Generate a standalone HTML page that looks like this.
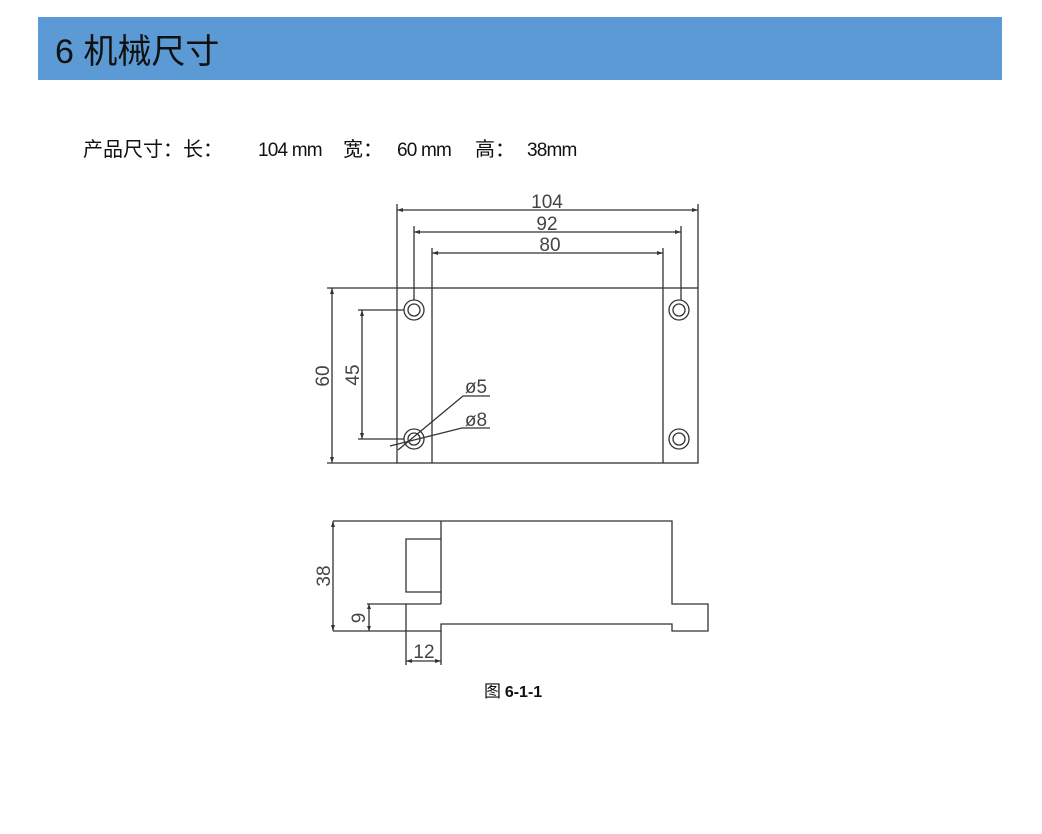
<!DOCTYPE html>
<html><head><meta charset="utf-8"><style>
html,body{margin:0;padding:0;background:#fff;width:1042px;height:834px;overflow:hidden}
svg{position:absolute;left:0;top:0}
</style></head><body>
<svg width="1042" height="834" viewBox="0 0 1042 834" xmlns="http://www.w3.org/2000/svg">
<rect x="38" y="17" width="964" height="63" fill="#5b9ad4"/>
<text x="55" y="63" font-family="'Liberation Sans','Noto Sans CJK SC',sans-serif" font-size="34" fill="#111">6 机械尺寸</text>
<text x="83" y="156" font-family="'Noto Sans CJK SC',sans-serif" font-size="20" fill="#111">产品尺寸：长：</text>
<text x="258" y="156" font-family="'Liberation Sans',sans-serif" font-size="19" fill="#111" letter-spacing="-0.8">104 mm</text>
<text x="343" y="156" font-family="'Noto Sans CJK SC',sans-serif" font-size="20" fill="#111">宽：</text>
<text x="397" y="156" font-family="'Liberation Sans',sans-serif" font-size="19" fill="#111" letter-spacing="-0.8">60 mm</text>
<text x="475" y="156" font-family="'Noto Sans CJK SC',sans-serif" font-size="20" fill="#111">高：</text>
<text x="527" y="156" font-family="'Liberation Sans',sans-serif" font-size="19" fill="#111" letter-spacing="-0.8">38mm</text>

<g stroke="#333" stroke-width="1.3" fill="none">
<rect x="397" y="288" width="301" height="175"/>
<line x1="432" y1="288" x2="432" y2="463"/>
<line x1="663" y1="288" x2="663" y2="463"/>
<circle cx="414" cy="310" r="10"/><circle cx="414" cy="310" r="6"/>
<circle cx="679" cy="310" r="10"/><circle cx="679" cy="310" r="6"/>
<circle cx="414" cy="439" r="10"/><circle cx="414" cy="439" r="6"/>
<circle cx="679" cy="439" r="10"/><circle cx="679" cy="439" r="6"/>
<line x1="397" y1="204" x2="397" y2="288"/><line x1="698" y1="204" x2="698" y2="288"/>
<line x1="397" y1="210" x2="698" y2="210"/>
<line x1="414" y1="226" x2="414" y2="300"/><line x1="681" y1="226" x2="681" y2="300"/>
<line x1="414" y1="232" x2="681" y2="232"/>
<line x1="432" y1="248" x2="432" y2="288"/><line x1="663" y1="248" x2="663" y2="288"/>
<line x1="432" y1="253" x2="663" y2="253"/>
<line x1="327" y1="288" x2="397" y2="288"/><line x1="327" y1="463" x2="397" y2="463"/>
<line x1="332" y1="288" x2="332" y2="463"/>
<line x1="358" y1="310" x2="404" y2="310"/><line x1="358" y1="439" x2="404" y2="439"/>
<line x1="362" y1="310" x2="362" y2="439"/>
<polyline points="490,396 463,396 398,450"/>
<polyline points="490,428 462,428 390,446"/>
<polyline points="333,521 672,521 672,604 708,604 708,631 672,631 672,624 441,624 441,631 333,631"/>
<line x1="441" y1="521" x2="441" y2="604"/>
<line x1="367" y1="604" x2="441" y2="604"/>
<line x1="406" y1="604" x2="406" y2="665"/>
<line x1="441" y1="631" x2="441" y2="665"/>
<polyline points="441,539 406,539 406,592 441,592"/>
<line x1="333" y1="521" x2="333" y2="631"/>
<line x1="369" y1="604" x2="369" y2="631"/>
<line x1="406" y1="661" x2="441" y2="661"/>
</g>
<g fill="#333">
<path d="M397,210 l6,-2 v4z M698,210 l-6,-2 v4z M414,232 l6,-2 v4z M681,232 l-6,-2 v4z M432,253 l6,-2 v4z M663,253 l-6,-2 v4z M332,288 l-2,6 h4z M332,463 l-2,-6 h4z M362,310 l-2,6 h4z M362,439 l-2,-6 h4z M333,521 l-2,6 h4z M333,631 l-2,-6 h4z M369,604 l-2,5 h4z M369,631 l-2,-5 h4z M406,661 l6,-2 v4z M441,661 l-6,-2 v4z"/>
</g>
<g font-family="'Liberation Sans',sans-serif" font-size="19" fill="#444" text-anchor="middle">
<text x="547" y="208">104</text>
<text x="547" y="230">92</text>
<text x="550" y="251">80</text>
<text x="476" y="393">ø5</text>
<text x="476" y="426">ø8</text>
<text transform="translate(329,376) rotate(-90)">60</text>
<text transform="translate(359,375) rotate(-90)">45</text>
<text transform="translate(330,576) rotate(-90)">38</text>
<text transform="translate(365,618) rotate(-90)">9</text>
<text x="424" y="658">12</text>
</g>
<text x="484" y="697" font-family="'Noto Sans CJK SC',sans-serif" font-size="17" fill="#111">图 <tspan font-family="'Liberation Sans',sans-serif" font-weight="bold" font-size="16">6-1-1</tspan></text>
</svg>
</body></html>
